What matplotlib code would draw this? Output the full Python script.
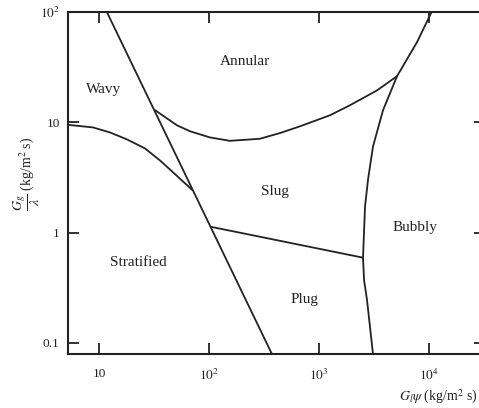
import matplotlib
matplotlib.use('Agg')
import matplotlib.pyplot as plt
import numpy as np

plt.rcParams['font.family'] = 'serif'
plt.rcParams['font.serif'] = ['Liberation Serif', 'DejaVu Serif']
plt.rcParams['mathtext.fontset'] = 'stix'

#----------- Boundary curves -----------#
# steep stratified/wavy -> slug/plug boundary
steep_x = [11.8, 374]
steep_y = [100, 0.079]

# wavy / stratified
wavy_x = [5.2, 8.8, 12.6, 18, 26.2, 36, 49, 63, 70]
wavy_y = [9.5, 9.0, 8.1, 7.0, 5.8, 4.5, 3.4, 2.7, 2.45]

# annular / slug
ann_x = [32.3, 51.2, 67.3, 102, 155, 290, 442, 670, 1259, 1914, 3367, 5117]
ann_y = [12.9, 9.4, 8.3, 7.3, 6.8, 7.1, 8.0, 9.2, 11.6, 14.3, 19.5, 26.2]

# slug / plug
plug_x = [104, 2512]
plug_y = [1.13, 0.593]

# bubbly boundary
bub_x = [10650, 7780, 5117, 3820, 3097, 2790, 2620, 2512, 2566, 2730, 3097]
bub_y = [102, 53.4, 26.2, 12.9, 6.05, 3.03, 1.72, 0.593, 0.374, 0.246, 0.079]

# regime labels
reg_names = ['Annular', 'Wavy', 'Slug', 'Bubbly', 'Stratified', 'Plug']
reg_x = [212, 11.1, 398, 7460, 22.6, 731]
reg_y = [35.8, 20, 2.36, 1.11, 0.533, 0.246]

xticks = [10, 100, 1000, 10000]
xticklabels = ['10', r'$10^2$', r'$10^3$', r'$10^4$']
yticks = [0.1, 1, 10, 100]
yticklabels = ['0.1', '1', '10', r'$10^2$']

#-----------     Plot     -----------#
fig = plt.figure(figsize=(4.79, 4.08), dpi=100)
ax = fig.add_axes([0.142, 0.1324, 0.8706, 0.838])
ax.set_xscale('log')
ax.set_yscale('log')
ax.set_xlim(5.23, 32300)
ax.set_ylim(0.0794, 100)

lc = '#222222'
lw = 1.3
for xs, ys in [(steep_x, steep_y), (wavy_x, wavy_y), (ann_x, ann_y),
               (plug_x, plug_y), (bub_x, bub_y)]:
    ax.plot(xs, ys, color=lc, lw=lw, solid_capstyle='round',
            solid_joinstyle='round')

for name, x, y in zip(reg_names, reg_x, reg_y):
    ax.text(x, y, name, fontsize=11, ha='center', va='center', color='#222222')

ax.set_xticks(xticks)
ax.set_xticklabels(xticklabels)
ax.set_yticks(yticks)
ax.set_yticklabels(yticklabels)
ax.minorticks_off()
ax.tick_params(which='major', direction='in', length=8, width=1.3,
               top=True, right=True, labelsize=9.5, colors='#222222')
ax.tick_params(axis='x', pad=10)
ax.tick_params(axis='y', pad=6)
for side in ['left', 'bottom', 'top']:
    ax.spines[side].set_linewidth(1.5)
    ax.spines[side].set_color('#222222')
ax.spines['right'].set_visible(False)

fig.text(27/479, 1-174/408, r'$\dfrac{G_g}{\lambda}$ (kg/m$^2$ s)', rotation=90,
         ha='center', va='center', fontsize=10, color='#222222')
fig.text(478/479, 1-397/408, r'$G_l\psi$ (kg/m$^2$ s)', ha='right',
         va='center', fontsize=10, color='#222222')

plt.savefig('out.png', dpi=100)
